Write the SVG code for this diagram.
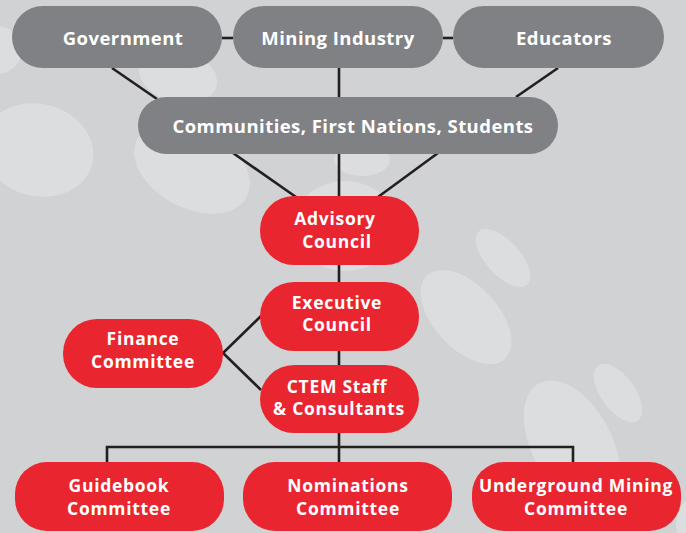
<svg xmlns="http://www.w3.org/2000/svg" width="686" height="533" viewBox="0 0 686 533">
<style>
.bg{fill:#d1d2d4}
.blob{fill:#dcdddf}
.g{fill:#808184}
.r{fill:#e9252f}
.t{font-family:"Open Sans","Liberation Sans",sans-serif;font-weight:700;fill:#ffffff;text-anchor:middle}
.t1{font-size:18.5px;letter-spacing:0.45px}
.t2{font-size:17.5px;letter-spacing:0.7px}
.c{stroke:#231f20;stroke-width:2.6;fill:none}
</style>
<rect class="bg" x="0" y="0" width="686" height="533"/>
<g id="background">
<ellipse class="blob" cx="-4" cy="50" rx="26" ry="24"/>
<ellipse class="blob" cx="178" cy="76" rx="40" ry="26" transform="rotate(15 178 76)"/>
<ellipse class="blob" cx="38" cy="150" rx="56" ry="46" transform="rotate(15 38 150)"/>
<ellipse class="blob" cx="192" cy="168" rx="62" ry="40" transform="rotate(28 192 168)"/>
<ellipse class="blob" cx="362" cy="160" rx="28" ry="16"/>
<ellipse class="blob" cx="345" cy="226" rx="52" ry="45"/>
<ellipse class="blob" cx="503" cy="258" rx="36" ry="17" transform="rotate(48 503 258)"/>
<ellipse class="blob" cx="466" cy="317" rx="57" ry="32" transform="rotate(47 466 317)"/>
<ellipse class="blob" cx="618" cy="393" rx="34" ry="17" transform="rotate(54 618 393)"/>
<ellipse class="blob" cx="572" cy="445" rx="70" ry="40" transform="rotate(62 572 445)"/>
<ellipse class="blob" cx="690" cy="525" rx="14" ry="25"/>
</g>
<g id="connectors">
<line class="c" x1="222" y1="38" x2="233" y2="38"/>
<line class="c" x1="443" y1="38" x2="453" y2="38"/>
<line class="c" x1="112" y1="68" x2="157" y2="99"/>
<line class="c" x1="339" y1="68" x2="339" y2="97"/>
<line class="c" x1="558" y1="68" x2="516" y2="97"/>
<line class="c" x1="233" y1="153" x2="296" y2="197"/>
<line class="c" x1="339" y1="153" x2="339" y2="197"/>
<line class="c" x1="438" y1="153" x2="378" y2="197"/>
<line class="c" x1="339" y1="264" x2="339" y2="283"/>
<line class="c" x1="339" y1="350" x2="339" y2="366"/>
<polyline class="c" points="261,316 223,353 261,390"/>
<line class="c" x1="339" y1="432" x2="339" y2="463"/>
<polyline class="c" points="107,463 107,447 573,447 573,463"/>
</g>
<g id="government">
<rect class="g" x="12" y="6" width="210" height="62" rx="31"/>
<text class="t t1" x="123" y="45">Government</text>
</g>
<g id="mining-industry">
<rect class="g" x="233" y="6" width="210" height="62" rx="31"/>
<text class="t t1" x="338" y="45">Mining Industry</text>
</g>
<g id="educators">
<rect class="g" x="453" y="6" width="211" height="62" rx="31"/>
<text class="t t1" x="564" y="45">Educators</text>
</g>
<g id="communities">
<rect class="g" x="138" y="97" width="420" height="57" rx="28.5"/>
<text class="t t1" x="353" y="133">Communities, First Nations, Students</text>
</g>
<g id="advisory-council">
<rect class="r" x="260" y="196" width="159" height="69" rx="34"/>
<text class="t t2" x="335" y="225">Advisory</text>
<text class="t t2" x="337" y="248">Council</text>
</g>
<g id="executive-council">
<rect class="r" x="260" y="282" width="159" height="69" rx="34"/>
<text class="t t2" x="337" y="308.5">Executive</text>
<text class="t t2" x="337" y="331">Council</text>
</g>
<g id="ctem-staff">
<rect class="r" x="260" y="365" width="159" height="68" rx="34"/>
<text class="t t2" x="337" y="392.5">CTEM Staff</text>
<text class="t t2" x="339" y="415">&amp; Consultants</text>
</g>
<g id="finance-committee">
<rect class="r" x="63" y="319" width="160" height="69" rx="34"/>
<text class="t t2" x="143" y="345">Finance</text>
<text class="t t2" x="143" y="367.5">Committee</text>
</g>
<g id="guidebook-committee">
<rect class="r" x="15" y="462" width="209" height="69" rx="32"/>
<text class="t t2" x="119" y="492">Guidebook</text>
<text class="t t2" x="119" y="515">Committee</text>
</g>
<g id="nominations-committee">
<rect class="r" x="243" y="462" width="209" height="69" rx="32"/>
<text class="t t2" x="348" y="492">Nominations</text>
<text class="t t2" x="348" y="515">Committee</text>
</g>
<g id="underground-mining-committee">
<rect class="r" x="472" y="462" width="209" height="69" rx="32"/>
<text class="t t2" x="576" y="492">Underground Mining</text>
<text class="t t2" x="576" y="515">Committee</text>
</g>
</svg>
